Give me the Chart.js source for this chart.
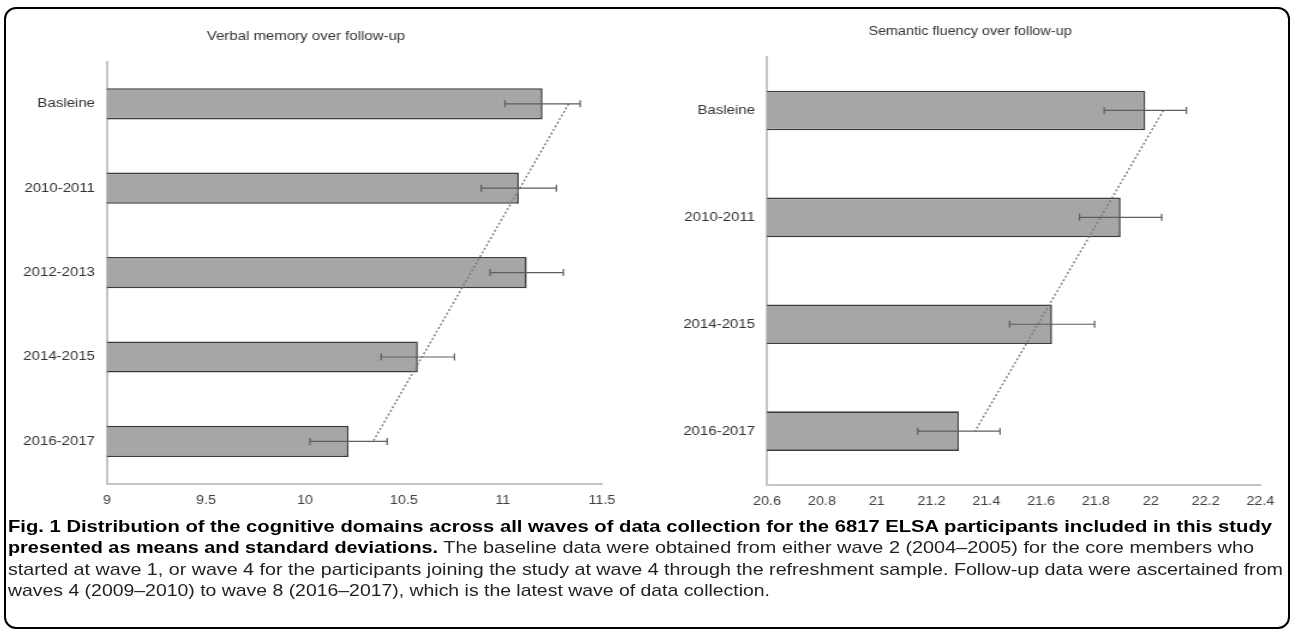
<!DOCTYPE html>
<html><head><meta charset="utf-8">
<script src="https://cdn.jsdelivr.net/npm/chart.js@4.4.0/dist/chart.umd.min.js"></script>
<style>
html,body{margin:0;padding:0;background:#fff;width:1293px;height:634px;overflow:hidden;}
#frame{position:absolute;left:4px;top:7px;width:1282px;height:618px;border:2px solid #000;border-radius:12px;}
.wrap{position:absolute;transform-origin:0 0;transform:scaleX(1.2);}
#w1{left:10px;top:10px;}
#w2{left:678px;top:8px;}
#caption{position:absolute;left:8px;top:516px;font-family:'Liberation Sans',Arial,sans-serif;font-size:17px;line-height:21.3px;color:#231f20;}
.ln{white-space:nowrap;transform-origin:0 0;width:max-content;}
.ln b{color:#000;}
</style></head>
<body>
<div id="frame"></div>
<div class="wrap" id="w1"><canvas id="c1" width="520" height="508"></canvas></div>
<div class="wrap" id="w2"><canvas id="c2" width="507" height="511"></canvas></div>
<div id="caption">
<div class="ln" data-w="1264"><b>Fig. 1 Distribution of the cognitive domains across all waves of data collection for the 6817 ELSA participants included in this study</b></div>
<div class="ln" data-w="1246"><b>presented as means and standard deviations.</b> The baseline data were obtained from either wave 2 (2004–2005) for the core members who</div>
<div class="ln" data-w="1275">started at wave 1, or wave 4 for the participants joining the study at wave 4 through the refreshment sample. Follow-up data were ascertained from</div>
<div class="ln" data-w="762">waves 4 (2009–2010) to wave 8 (2016–2017), which is the latest wave of data collection.</div>
</div>
<script>
// ---- data ----
const verbalTitle = 'Verbal memory over follow-up';
const verbalCategories = ['Basleine', '2010-2011', '2012-2013', '2014-2015', '2016-2017'];
const verbalMeans = [11.20, 11.08, 11.12, 10.57, 10.22];
const verbalSD = [0.19, 0.19, 0.185, 0.185, 0.195];
const verbalTicks = [9, 9.5, 10, 10.5, 11, 11.5];

const fluencyTitle = 'Semantic fluency over follow-up';
const fluencyCategories = ['Basleine', '2010-2011', '2014-2015', '2016-2017'];
const fluencyMeans = [21.98, 21.89, 21.64, 21.30];
const fluencySD = [0.15, 0.15, 0.155, 0.15];
const fluencyTicks = [20.6, 20.8, 21, 21.2, 21.4, 21.6, 21.8, 22, 22.2, 22.4];

// linear least-squares trendline (as the spreadsheet trendline) evaluated at first/last category
function trendEnds(vals){
  const n = vals.length, mx = (n-1)/2, my = vals.reduce((a,b)=>a+b,0)/n;
  let num=0, den=0;
  vals.forEach((v,i)=>{ num += (i-mx)*(v-my); den += (i-mx)*(i-mx); });
  const b = num/den;
  return [my - b*mx, my + b*(n-1-mx)];
}

Chart.defaults.font.family = "'Liberation Sans', Arial, sans-serif";
Chart.defaults.font.size = 12;
Chart.defaults.color = '#333';
Chart.defaults.animation = false;

const errorBars = {
  id: 'errorBars',
  afterDatasetsDraw(chart){
    const ds = chart.data.datasets[0];
    const sd = ds.errors; if(!sd) return;
    const xs = chart.scales.x, ys = chart.scales.y, ctx = chart.ctx;
    ctx.save();
    ctx.strokeStyle = '#5e5e5e'; ctx.lineWidth = 1.2;
    ds.data.forEach((v,i)=>{
      const y = ys.getPixelForValue(i);
      const x1 = xs.getPixelForValue(v - sd[i]), x2 = xs.getPixelForValue(v + sd[i]);
      ctx.beginPath();
      ctx.moveTo(x1,y); ctx.lineTo(x2,y);
      ctx.moveTo(x1,y-3.5); ctx.lineTo(x1,y+3.5);
      ctx.moveTo(x2,y-3.5); ctx.lineTo(x2,y+3.5);
      ctx.stroke();
    });
    ctx.restore();
  }
};

function makeChart(id, title, cats, means, sd, ticks, cfg){
  const t = trendEnds(means);
  return new Chart(document.getElementById(id), {
    type: 'bar',
    data: {
      labels: cats,
      datasets: [{
        type: 'bar', data: means, errors: sd, order: 1,
        backgroundColor: '#a6a6a6', borderColor: '#3c3c3c', borderWidth: 1.6, borderSkipped: false,
        barPercentage: 0.37, categoryPercentage: 1
      },{
        type: 'line', order: 0,
        data: [{x: t[0], y: cats[0]}, {x: t[1], y: cats[cats.length-1]}],
        borderColor: '#7a7a7a', borderWidth: 1.4, borderDash: [2,2], pointRadius: 0, fill: false
      }]
    },
    options: {
      responsive: false, indexAxis: 'y',
      layout: { padding: { left: 0, right: cfg.padRight, top: 0, bottom: 0 } },
      plugins: {
        legend: { display: false }, tooltip: { enabled: false },
        title: { display: true, text: title, color: '#333', font: { size: cfg.titleSize, weight: 'normal', lineHeight: 1.2 },
                 padding: { top: cfg.titleTop, bottom: cfg.titleBottom } }
      },
      scales: {
        x: {
          type: 'linear', min: ticks[0], max: ticks[ticks.length-1],
          afterBuildTicks: s => { s.ticks = ticks.map(v => ({ value: v })); },
          ticks: { color: '#404040', padding: cfg.xPad, maxRotation: 0, autoSkip: false,
                   callback: v => String(v) },
          grid: { display: false, drawTicks: false },
          border: { display: true, color: '#c4c4c4', width: 2 }
        },
        y: {
          type: 'category',
          afterFit: s => { s.width = cfg.yWidth; },
          ticks: { color: '#333', padding: 10, font: { size: 12.5 } },
          grid: { display: false, drawTicks: false },
          border: { display: true, color: '#c4c4c4', width: 2 }
        }
      }
    },
    plugins: [errorBars]
  });
}

makeChart('c1', verbalTitle, verbalCategories, verbalMeans, verbalSD, verbalTicks,
  { padRight: 26.7, yWidth: 80.8, titleTop: 19, titleBottom: 17.6, xPad: 10, titleSize: 12.5 });
makeChart('c2', fluencyTitle, fluencyCategories, fluencyMeans, fluencySD, fluencyTicks,
  { padRight: 20.3, yWidth: 74.2, titleTop: 16.8, titleBottom: 17.8, xPad: 10, titleSize: 12 });

// fit caption lines to their widths
document.querySelectorAll('.ln').forEach(el => {
  const target = +el.dataset.w;
  const w = el.getBoundingClientRect().width;
  el.style.transform = 'scaleX(' + (target / w) + ')';
});
</script>
</body></html>
